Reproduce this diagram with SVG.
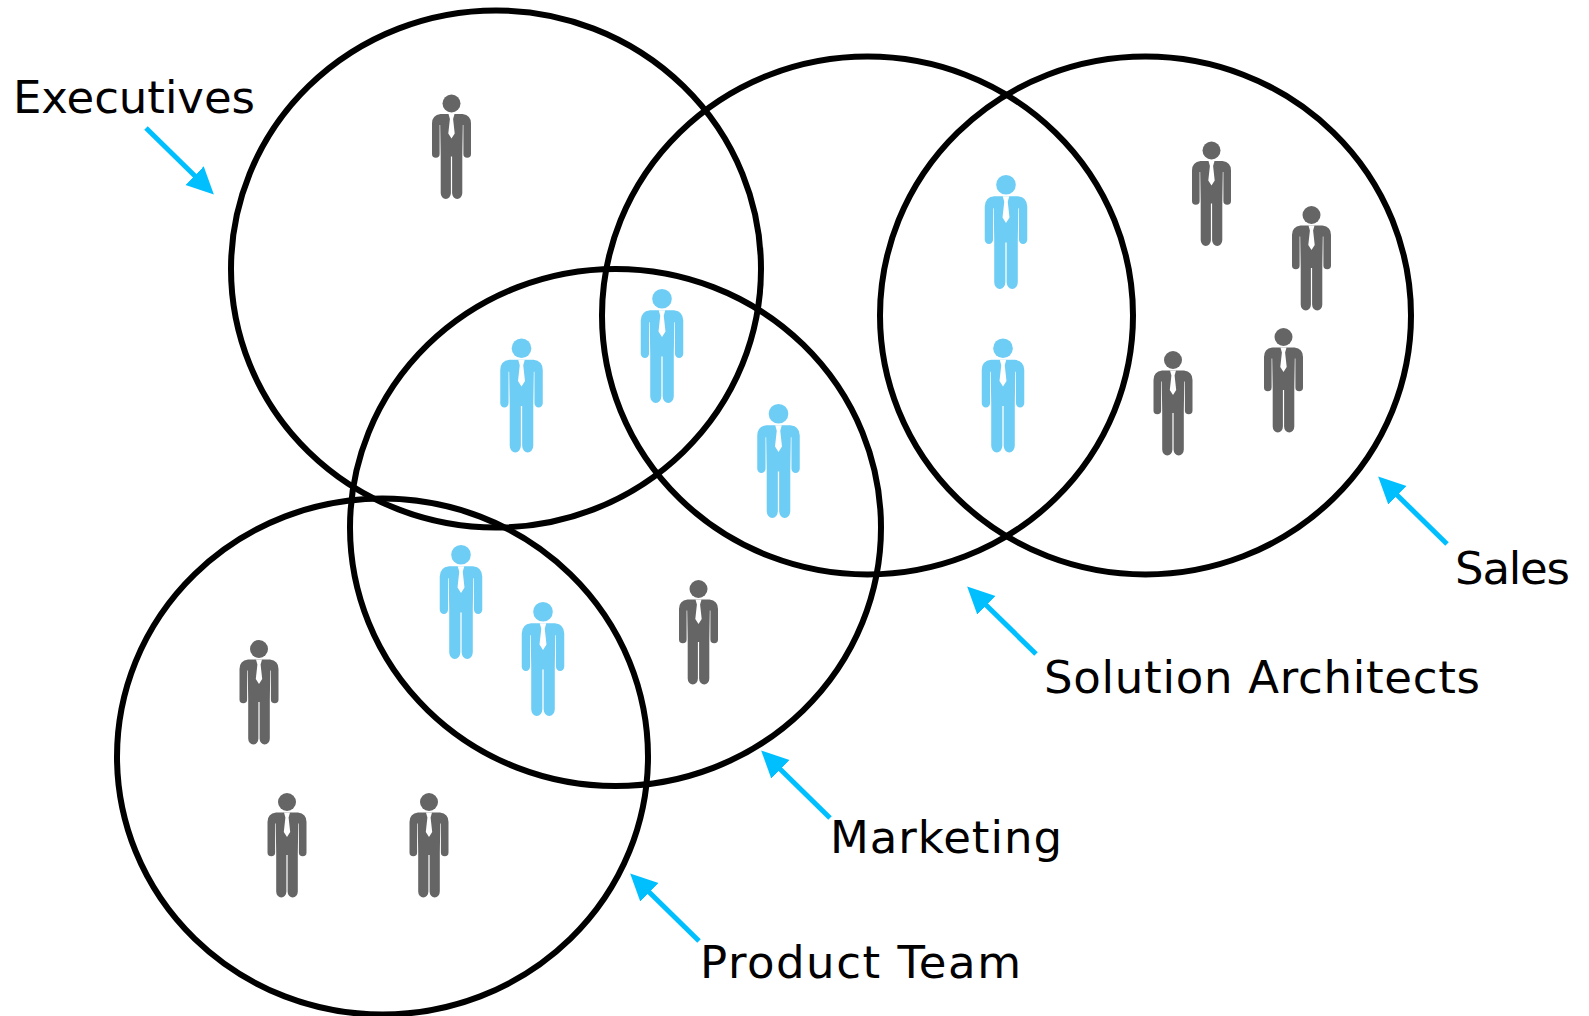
<svg xmlns="http://www.w3.org/2000/svg" width="1589" height="1016" viewBox="0 0 1589 1016">
<style>
.ring{fill:none;stroke:#000;stroke-width:6}
.arrow{fill:none;stroke:#00bfff;stroke-width:5;marker-end:url(#head)}
.label{font-family:"DejaVu Sans",sans-serif;font-size:45px;fill:#000}
.dark{fill:#656565}
.blue{fill:#6dcdf5}
</style>
<defs>
<marker id="head" markerUnits="userSpaceOnUse" markerWidth="30" markerHeight="30" refX="2" refY="13" orient="auto"><path d="M0 0L27 13L0 26Z" fill="#00bfff"/></marker>
<symbol id="person" overflow="visible">
<circle cx="0" cy="9" r="9"/>
<path d="M-11 19.500H11Q19.500 20.500 19.500 29V59.500A3.800 3.800 0 0 1 11.900 59.500V30.500H11.300L10.800 60V98.500A5.100 6 0 0 1 .6 98.500V62H-.6V98.500A5.100 6 0 0 1 -10.800 98.500V60L-11.300 30.500H-11.900V59.500A3.800 3.800 0 0 1 -19.500 59.500V29Q-19.500 20.500 -11 19.500Z"/>
<path d="M-3 19.500H3L1.600 24.500L3.200 39L0 44L-3.200 39L-1.600 24.500Z" fill="#fff"/>
</symbol>
</defs>
<g id="connectors">
<path class="arrow" d="M146 128L196 177"/>
<path class="arrow" d="M1447 544L1396 494"/>
<path class="arrow" d="M1036 654L985 604"/>
<path class="arrow" d="M830 818L779 768"/>
<path class="arrow" d="M699 941L648 891"/>
</g>
<g id="executives"><ellipse class="ring" cx="496" cy="269" rx="265" ry="258.500"/><text class="label" x="13" y="113" textLength="242">Executives</text></g>
<g id="solution-architects"><ellipse class="ring" cx="867.500" cy="315.500" rx="265.500" ry="259"/><text class="label" x="1044" y="692.500" textLength="436">Solution Architects</text></g>
<g id="sales"><ellipse class="ring" cx="1145.500" cy="315.500" rx="265.500" ry="259"/><text class="label" x="1455" y="584" textLength="115">Sales</text></g>
<g id="marketing"><ellipse class="ring" cx="615.500" cy="527.500" rx="265.500" ry="258.500"/><text class="label" x="830" y="853" textLength="232">Marketing</text></g>
<g id="product-team"><ellipse class="ring" cx="382.500" cy="756.500" rx="265.500" ry="258"/><text class="label" x="700" y="977.500" textLength="321">Product Team</text></g>
<g id="people">
<use href="#person" class="dark" x="451.500" y="94.500"/>
<use href="#person" class="dark" x="1211.500" y="141.500"/>
<use href="#person" class="dark" x="1311.500" y="206"/>
<use href="#person" class="dark" x="1173" y="351"/>
<use href="#person" class="dark" x="1283.500" y="328"/>
<use href="#person" class="dark" x="698.500" y="580"/>
<use href="#person" class="dark" x="259" y="640"/>
<use href="#person" class="dark" x="287" y="793"/>
<use href="#person" class="dark" x="429" y="793"/>
<use href="#person" class="blue" transform="translate(1006 175) scale(1.090)"/>
<use href="#person" class="blue" transform="translate(1003 338.500) scale(1.090)"/>
<use href="#person" class="blue" transform="translate(662 289) scale(1.090)"/>
<use href="#person" class="blue" transform="translate(521.500 338.500) scale(1.090)"/>
<use href="#person" class="blue" transform="translate(778.500 404) scale(1.090)"/>
<use href="#person" class="blue" transform="translate(461 545) scale(1.090)"/>
<use href="#person" class="blue" transform="translate(543 602) scale(1.090)"/>
</g>
</svg>
